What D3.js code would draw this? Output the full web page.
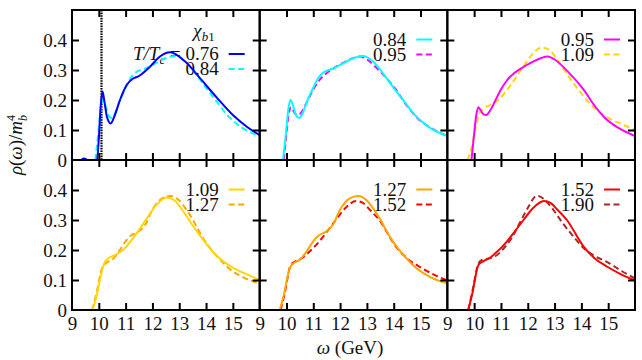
<!DOCTYPE html>
<html>
<head>
<meta charset="utf-8">
<script src="https://cdn.jsdelivr.net/npm/d3@7"></script>
<style>
    body { margin: 0; background: #fff; }
    svg { display: block; }
    text { font-family: 'Liberation Serif', serif; fill: #111; }
</style>
</head>
<body>
<svg id="chart" width="642" height="360"></svg>
<script>
const omegaTicks = [9, 10, 11, 12, 13, 14, 15];
const rhoTicks = [0, 0.1, 0.2, 0.3, 0.4];
const tempLabels = ['0.76', '0.84', '0.95', '1.09', '1.27', '1.52', '1.90'];
const lineColors = ['#0000ff', '#00ffff', '#ff00ff', '#ffd700', '#ffa500', '#ff0000', '#a52a2a'];
const thresholdOmega = 10.1;

// [omega (GeV), rho/m_b^4]
const rho076 = [[9.36, 0], [9.42, 0.005], [9.52, 0.003], [9.56, 0], [9.93, 0], [10.0, 0.07], [10.07, 0.18],
    [10.14, 0.228], [10.2, 0.2], [10.3, 0.145], [10.44, 0.122], [10.6, 0.15], [10.79, 0.2], [11.04, 0.25],
    [11.25, 0.27], [11.5, 0.28], [11.9, 0.31], [12.28, 0.345], [12.66, 0.359], [13.22, 0.328], [13.78, 0.272],
    [14.4, 0.208], [15.02, 0.148], [15.52, 0.111], [16, 0.083]];
const rho084 = [[9.87, 0], [9.97, 0.08], [10.07, 0.17], [10.15, 0.2], [10.25, 0.18], [10.35, 0.15], [10.47, 0.14],
    [10.6, 0.155], [10.74, 0.189], [10.99, 0.239], [11.18, 0.272], [11.36, 0.291], [11.74, 0.305], [12.11, 0.322],
    [12.48, 0.339], [12.86, 0.347], [13.23, 0.328], [13.6, 0.289], [13.97, 0.244], [14.35, 0.2], [14.85, 0.144],
    [15.34, 0.108], [16, 0.08]];
const rho095 = [[9.9, 0], [9.98, 0.07], [10.08, 0.15], [10.16, 0.176], [10.25, 0.165], [10.35, 0.152], [10.45, 0.15],
    [10.6, 0.165], [10.8, 0.2], [11.0, 0.235], [11.22, 0.265], [11.5, 0.29], [11.71, 0.303], [12.2, 0.328],
    [12.5, 0.34], [12.75, 0.345], [13.0, 0.335], [13.46, 0.298], [14.07, 0.236], [14.5, 0.18], [14.88, 0.14],
    [15.4, 0.106], [16, 0.08]];
const rho109 = [[9.76, 0], [9.9, 0.04], [10.04, 0.1], [10.2, 0.155], [10.35, 0.172], [10.6, 0.183], [10.9, 0.2],
    [11.3, 0.242], [11.75, 0.3], [12.12, 0.347], [12.52, 0.375], [12.83, 0.365], [13.1, 0.335], [13.4, 0.295],
    [13.74, 0.252], [14.35, 0.185], [14.98, 0.142], [15.57, 0.117], [16, 0.1]];
const rho127 = [[9.75, 0], [9.9, 0.05], [10.12, 0.139], [10.3, 0.158], [10.49, 0.167], [10.75, 0.195], [10.99, 0.228],
    [11.2, 0.248], [11.49, 0.262], [11.74, 0.285], [11.99, 0.333], [12.36, 0.372], [12.67, 0.38], [12.99, 0.366],
    [13.36, 0.322], [13.97, 0.228], [14.4, 0.18], [14.85, 0.139], [15.4, 0.108], [16, 0.089]];
const rho152 = [[9.78, 0], [9.92, 0.05], [10.16, 0.15], [10.35, 0.163], [10.59, 0.174], [10.9, 0.198], [11.22, 0.228],
    [11.5, 0.26], [11.84, 0.3], [12.2, 0.34], [12.6, 0.363], [12.85, 0.357], [13.1, 0.335], [13.46, 0.3],
    [14.07, 0.213], [14.5, 0.172], [14.95, 0.145], [15.5, 0.118], [16, 0.098]];
const rho190 = [[9.78, 0], [9.93, 0.06], [10.16, 0.155], [10.3, 0.168], [10.55, 0.172], [10.8, 0.18], [11.1, 0.205],
    [11.4, 0.24], [11.7, 0.29], [12.0, 0.34], [12.34, 0.381], [12.6, 0.37], [12.9, 0.34], [13.3, 0.29],
    [13.7, 0.245], [14.1, 0.205], [14.5, 0.18], [15.0, 0.158], [15.5, 0.13], [16, 0.105]];

const series = [rho076, rho084, rho095, rho109, rho127, rho152, rho190];
// each panel: [solid series index, dashed series index]
const panelPairs = [[0, 1], [1, 2], [2, 3], [3, 4], [4, 5], [5, 6]];

const frame = { left: 72, top: 10, right: 635, bottom: 310 };
const panelW = (frame.right - frame.left) / 3;
const panelH = (frame.bottom - frame.top) / 2;
const DASH = '6,3.5';
const FONT = '19px';

const svg = d3.select('#chart');

function drawPanel(pair, i) {
    const col = i % 3;
    const row = Math.floor(i / 3);
    const px = frame.left + col * panelW;
    const py = frame.top + row * panelH;

    const x = d3.scaleLinear().domain([9, 16]).range([px, px + panelW]);
    const y = d3.scaleLinear().domain([0, 0.5]).range([py + panelH, py]);
    const g = svg.append('g');

    // legend
    const rowY = i === 0 ? [py + 44, py + 59] : [py + 29.5, py + 44.5];
    const textX = px + panelW - 41;
    if (i === 0) {
        const head = g.append('text')
            .attr('x', textX - 4)
            .attr('y', py + 27)
            .attr('text-anchor', 'end')
            .style('font-size', FONT);
        head.append('tspan').style('font-style', 'italic').text('χ');
        head.append('tspan').attr('dy', 4).style('font-size', '13px').style('font-style', 'italic').text('b');
        head.append('tspan').style('font-size', '13px').text('1');
    }
    pair.forEach((s, k) => {
        const t = g.append('text')
            .attr('x', textX)
            .attr('y', rowY[k] + 6)
            .attr('text-anchor', 'end')
            .style('font-size', FONT);
        if (i === 0 && k === 0) {
            t.append('tspan').style('font-style', 'italic').text('T/T');
            t.append('tspan').attr('dy', 4).style('font-size', '13px').style('font-style', 'italic').text('c');
            t.append('tspan').attr('dy', -4).text(' = ' + tempLabels[s]);
        } else {
            t.text(tempLabels[s]);
        }
        g.append('line')
            .attr('x1', px + panelW - 31)
            .attr('x2', px + panelW - 15)
            .attr('y1', rowY[k])
            .attr('y2', rowY[k])
            .attr('stroke', lineColors[s])
            .attr('stroke-width', 2)
            .attr('stroke-dasharray', k === 1 ? DASH : null);
    });

    // curves
    const clipId = `clip${i}`;
    svg.append('clipPath').attr('id', clipId)
        .append('rect').attr('x', px).attr('y', py).attr('width', panelW).attr('height', panelH);

    const line = d3.line()
        .x(d => x(d[0]))
        .y(d => y(d[1]))
        .curve(d3.curveMonotoneX);

    const plot = g.append('g').attr('clip-path', `url(#${clipId})`);

    if (i === 0) {
        plot.append('line')
            .attr('x1', x(thresholdOmega))
            .attr('x2', x(thresholdOmega))
            .attr('y1', y(0.5))
            .attr('y2', y(0))
            .attr('stroke', '#000')
            .attr('stroke-width', 2.2)
            .attr('stroke-dasharray', '1.6,1');
    }

    [pair[1], pair[0]].forEach(s => {
        plot.append('path')
            .datum(series[s])
            .attr('d', line)
            .attr('fill', 'none')
            .attr('stroke', lineColors[s])
            .attr('stroke-width', 2)
            .attr('stroke-dasharray', s === pair[1] ? DASH : null);
    });

    // axes (ticks inward on all four sides)
    const noLabel = () => '';
    const rhoFormat = d => (d === 0 ? '0' : d.toFixed(1));
    const axes = [
        [d3.axisBottom(x).tickValues(omegaTicks.slice(1)).tickFormat(noLabel), `translate(0,${py + panelH})`],
        [d3.axisTop(x).tickValues(omegaTicks.slice(1)).tickFormat(noLabel), `translate(0,${py})`],
        [d3.axisLeft(y).tickValues(rhoTicks.slice(1)).tickFormat(noLabel), `translate(${px},0)`],
        [d3.axisRight(y).tickValues(rhoTicks.slice(1)).tickFormat(noLabel), `translate(${px + panelW},0)`],
    ];
    axes.forEach(([ax, tr]) => {
        g.append('g')
            .attr('transform', tr)
            .call(ax.tickSize(-7))
            .call(a => a.select('.domain').remove())
            .call(a => a.selectAll('.tick line').attr('stroke', '#000').attr('stroke-width', 2));
    });

    if (row === 1) {
        g.append('g')
            .attr('transform', `translate(0,${py + panelH})`)
            .call(d3.axisBottom(x).tickValues(omegaTicks).tickSize(0).tickPadding(7).tickFormat(d3.format('d')))
            .call(a => a.select('.domain').remove())
            .call(a => a.selectAll('text').style('font-size', FONT).attr('fill', '#111')
                .style('font-family', "'Liberation Serif', serif"));
    }
    if (col === 0) {
        g.append('g')
            .attr('transform', `translate(${px},0)`)
            .call(d3.axisLeft(y).tickValues(rhoTicks).tickSize(0).tickPadding(5).tickFormat(rhoFormat))
            .call(a => a.select('.domain').remove())
            .call(a => a.selectAll('text').style('font-size', FONT).attr('fill', '#111')
                .style('font-family', "'Liberation Serif', serif"));
    }

    g.append('rect')
        .attr('x', px)
        .attr('y', py)
        .attr('width', panelW)
        .attr('height', panelH)
        .attr('fill', 'none')
        .attr('stroke', '#000')
        .attr('stroke-width', 2);
}

panelPairs.forEach(drawPanel);

// axis titles
const xTitle = svg.append('text')
    .attr('x', 350)
    .attr('y', 354)
    .attr('text-anchor', 'middle')
    .style('font-size', FONT);
xTitle.append('tspan').style('font-style', 'italic').text('ω');
xTitle.append('tspan').text(' (GeV)');

const yTitle = svg.append('text')
    .attr('transform', 'translate(22,145) rotate(-90)')
    .attr('text-anchor', 'middle')
    .style('font-size', FONT);
yTitle.append('tspan').style('font-style', 'italic').text('ρ');
yTitle.append('tspan').text('(');
yTitle.append('tspan').style('font-style', 'italic').text('ω');
yTitle.append('tspan').text(')/');
yTitle.append('tspan').style('font-style', 'italic').text('m');
yTitle.append('tspan').attr('dy', 5).style('font-size', '12px').style('font-style', 'italic').text('b');
yTitle.append('tspan').attr('dx', -6).attr('dy', -12).style('font-size', '12px').text('4');
</script>
</body>
</html>
